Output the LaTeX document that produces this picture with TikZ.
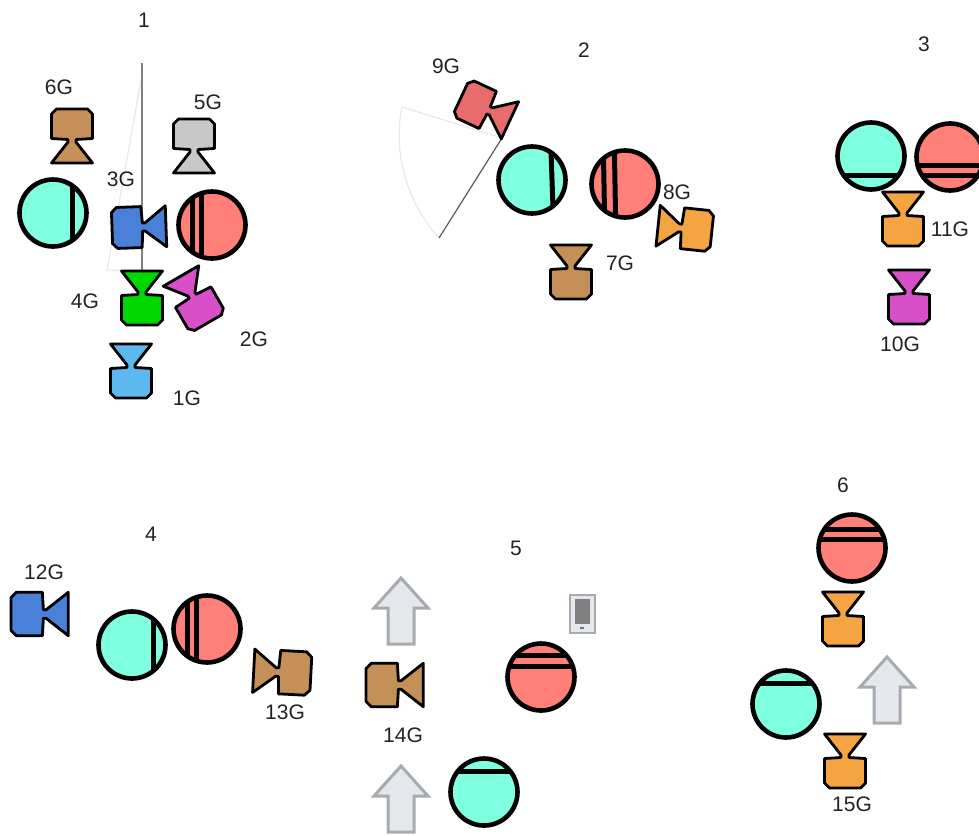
\documentclass[tikz,border=0pt]{standalone}
\usepackage{fontspec}
\setmainfont{Liberation Sans}
\definecolor{teal1}{HTML}{7FFFDF}
\definecolor{red1}{HTML}{FF8078}
\definecolor{camblue}{HTML}{4A80D8}
\definecolor{camgreen}{HTML}{00D800}
\definecolor{campurple}{HTML}{D850C8}
\definecolor{camsky}{HTML}{5CB8EE}
\definecolor{cambrown}{HTML}{C49058}
\definecolor{camgrey}{HTML}{C8C8C8}
\definecolor{camorange}{HTML}{F4A442}
\definecolor{camrose}{HTML}{E86C6C}
\definecolor{arrfill}{HTML}{E4E8EC}
\definecolor{arredge}{HTML}{A8ABAE}
\definecolor{paleline}{HTML}{E8E8E8}
\definecolor{txt}{HTML}{222222}
\tikzset{
  lbl/.style={font=\fontsize{21}{24}\selectfont,text=txt,inner sep=0pt},
  camedge/.style={draw=black,line width=2.8pt,line join=round},
  chord/.style={draw=black,line width=5pt},
  ring/.style={draw=black,line width=4.6pt},
  blockarrow/.style={draw=arredge,fill=arrfill,line width=3pt,line join=miter},
  fovpale/.style={draw=paleline,line width=1.2pt},
  fovdark/.style={draw=black!65,line width=1.2pt},
  pics/camera/.style={code={
    \path[camedge,fill=#1]
      (-20.5,22) -- (20.5,22) -- (4,1) -- (4,-1.5) -- (20.5,-2.5) -- (20.5,-27) -- (15.5,-32)
      -- (-15.5,-32) -- (-20.5,-27) -- (-20.5,-2.5) -- (-4,-1.5) -- (-4,1) -- cycle;
  }},
  pics/ball/.style n args={3}{code={
    \fill[#1] (0,0) circle (33.5);
    \begin{scope}[rotate=#2]
      \clip (0,0) circle (33.5);
      \foreach \d in {#3} \draw[chord] (\d,-40) -- (\d,40);
    \end{scope}
    \draw[ring] (0,0) circle (33.5);
  }},
  pics/uparrow/.style={code={
    \path[blockarrow] (0,0) -- (27,-30) -- (13,-30) -- (13,-66) -- (-13,-66)
      -- (-13,-30) -- (-27,-30) -- cycle;
  }},
}
\begin{document}
\begin{tikzpicture}[x=1pt,y=1pt]
\useasboundingbox (0,-835) rectangle (979,0);
% field-of-view wedges
\coordinate (fa) at (142,-63);
\coordinate (fb) at (142,-271);
\coordinate (fc) at (107,-270);
\draw[fovpale] (142,-75) -- (fc) -- (fb);
\draw[fovdark,draw=black!50] (fa) -- (fb);
\coordinate (ga) at (502,-138);
\coordinate (gb) at (402,-107);
\coordinate (gc) at (439,-238);
\draw[fovpale] (ga) -- (gb) .. controls (393,-150) and (405,-200) .. (gc);
\draw[fovdark] (ga) -- (gc);
% group 1
\pic at (53,-213) {ball={teal1}{0}{19}};
\pic at (212,-225) {ball={red1}{0}{-20,-11}};
\pic at (131,-366) {camera=camsky};
\pic[rotate=30] at (192,-295) {camera=campurple};
\pic[rotate=-88] at (144,-227) {camera=camblue};
\pic at (142,-293) {camera=camgreen};
\pic[rotate=180] at (194,-151) {camera=camgrey};
\pic[rotate=180] at (72,-141) {camera=cambrown};
% group 2
\pic at (532,-180) {ball={teal1}{2}{20}};
\pic at (625,-184) {ball={red1}{1}{-21,-10}};
\pic at (571,-267) {camera=cambrown};
\pic[rotate=84] at (680,-228) {camera=camorange};
\pic[rotate=-115] at (490,-111) {camera=camrose};
% group 3
\pic at (871,-156) {ball={teal1}{90}{-19}};
\pic at (950,-157) {ball={red1}{90}{-8,-18}};
\pic at (903,-214) {camera=camorange};
\pic at (909,-292) {camera=campurple};
% group 4
\pic at (132,-645) {ball={teal1}{0}{21}};
\pic at (207,-629) {ball={red1}{0}{-20,-11}};
\pic[rotate=-90,scale=1.06] at (45,-614) {camera=camblue};
\pic[rotate=87,scale=1.06] at (277,-672) {camera=cambrown};
% group 5
\pic at (401,-578) {uparrow};
\pic at (401,-766) {uparrow};
\pic[rotate=-90,scale=1.06] at (400,-685) {camera=cambrown};
\pic at (541,-677) {ball={red1}{90}{22,11}};
\pic at (484,-792) {ball={teal1}{90}{21}};
\path[draw=arredge,fill=arrfill,line width=2.5pt] (570,-595) rectangle (595,-633);
\fill[black!50] (575,-599) rectangle (590,-624);
\fill[black!55] (580,-627) rectangle (584,-629);
% group 6
\pic at (852,-548) {ball={red1}{90}{9,19}};
\pic at (786,-704) {ball={teal1}{90}{21}};
\pic at (843,-614) {camera=camorange};
\pic at (845,-756) {camera=camorange};
\pic at (887,-657) {uparrow};
% labels
\node[lbl] (n1) at (144,-20) {1};
\node[lbl] (n2) at (584,-50) {2};
\node[lbl] (n3) at (924,-44) {3};
\node[lbl] (n4) at (151,-534) {4};
\node[lbl] (n5) at (516,-548) {5};
\node[lbl] (n6) at (843,-485) {6};
\node[lbl] (g1) at (187,-398) {1G};
\node[lbl] (g2) at (254,-339) {2G};
\node[lbl] (g3) at (121,-179) {3G};
\node[lbl] (g4) at (85,-301) {4G};
\node[lbl] (g5) at (208,-102) {5G};
\node[lbl] (g6) at (59,-87) {6G};
\node[lbl] (g7) at (620,-263) {7G};
\node[lbl] (g8) at (677,-192) {8G};
\node[lbl] (g9) at (446,-66) {9G};
\node[lbl] (g10) at (900,-344) {10G};
\node[lbl] (g11) at (950,-229) {11G};
\node[lbl] (g12) at (44,-572) {12G};
\node[lbl] (g13) at (285,-712) {13G};
\node[lbl] (g14) at (403,-735) {14G};
\node[lbl] (g15) at (852,-804) {15G};
\end{tikzpicture}
\end{document}
